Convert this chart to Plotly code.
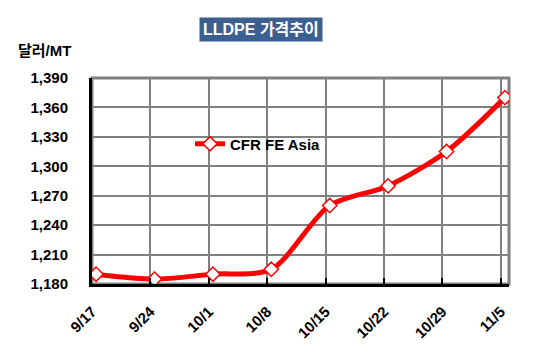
import plotly.graph_objects as go

dates = ["9/17", "9/24", "10/1", "10/8", "10/15", "10/22", "10/29", "11/5"]
cfr_fe_asia = [1190, 1185, 1190, 1195, 1260, 1280, 1315, 1370]
y_ticks = [1180, 1210, 1240, 1270, 1300, 1330, 1360, 1390]

xpos = list(range(len(dates)))
grid_pos = [i - 0.07 for i in xpos]

fig = go.Figure()
fig.add_trace(go.Scatter(
    x=xpos, y=cfr_fe_asia, name="CFR FE Asia",
    mode="lines+markers",
    line=dict(color="#ff0000", width=5, shape="spline", smoothing=0.8),
    marker=dict(symbol="diamond", size=11, color="white",
                line=dict(color="#ff0000", width=1.5)),
))

font_b = "Liberation Sans, Arial, sans-serif"
font_k = "Liberation Sans, Noto Sans CJK KR, sans-serif"

L, R, T, B = 92, 37, 78, 69
W, H = 546, 353
PW, PH = W - L - R, H - T - B

def px(x):
    return (x - L) / PW

def py(y):
    return (H - B - y) / PH

fig.update_layout(
    width=W, height=H,
    margin=dict(l=L, r=R, t=T, b=B),
    paper_bgcolor="white", plot_bgcolor="white",
    showlegend=True,
    legend=dict(x=px(190), y=py(144), xanchor="left", yanchor="middle",
                bgcolor="rgba(0,0,0,0)",
                font=dict(family=font_b, size=15, color="black", weight="bold")),
    xaxis=dict(
        range=[-0.07, 7.07], tickmode="array", tickvals=grid_pos, ticktext=dates,
        tickangle=-45, showgrid=True, gridcolor="#808080", gridwidth=2,
        showline=True, linecolor="black", linewidth=3,
        ticks="inside", ticklen=6, tickwidth=2, tickcolor="black",
        zeroline=False,
        tickfont=dict(family=font_b, size=15, color="black", weight="bold"),
        ticklabelstandoff=10,
    ),
    yaxis=dict(
        range=[1180, 1390], tickmode="array", tickvals=y_ticks,
        ticktext=[f"{v:,}" for v in y_ticks],
        showgrid=True, gridcolor="#808080", gridwidth=2,
        showline=True, linecolor="black", linewidth=3,
        zeroline=False, ticks="",
        tickfont=dict(family=font_b, size=15, color="black", weight="bold"),
        ticklabelstandoff=18,
    ),
    shapes=[dict(type="rect", xref="paper", yref="paper", x0=0, x1=1, y0=0, y1=1,
                 line=dict(color="#808080", width=3), layer="below")],
    annotations=[
        dict(text="<b>LLDPE 가격추이</b>", xref="paper", yref="paper",
             x=px(261), y=py(29), xanchor="center", yanchor="middle",
             showarrow=False, bgcolor="#3b5f8e", borderpad=3,
             font=dict(family=font_k, size=16, color="white")),
        dict(text="<b>달러/MT</b>", xref="paper", yref="paper",
             x=px(16), y=py(50), xanchor="left", yanchor="middle",
             showarrow=False,
             font=dict(family=font_k, size=15, color="black")),
    ],
)

fig.write_html("out.html")
